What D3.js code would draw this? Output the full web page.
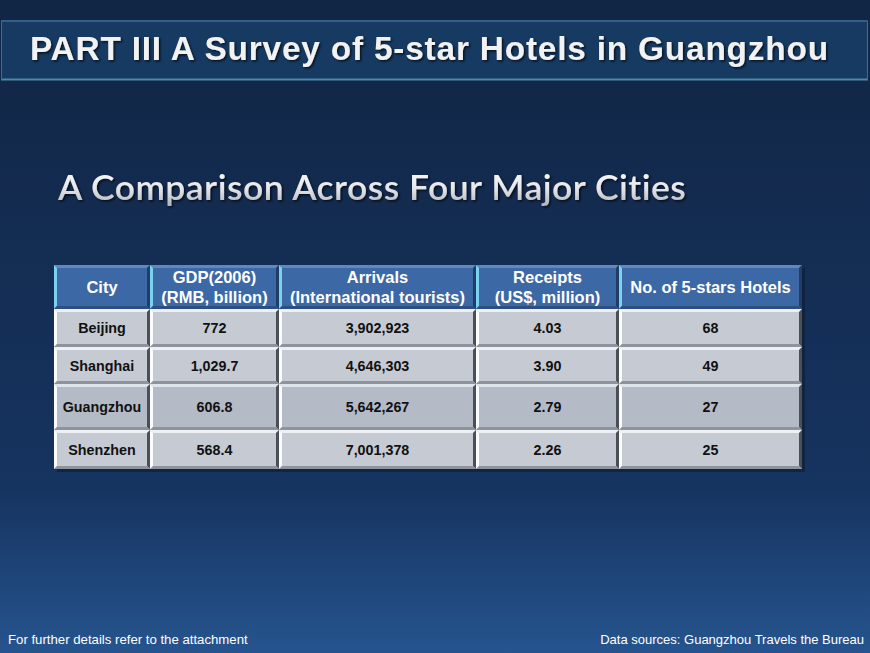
<!DOCTYPE html>
<html>
<head>
<meta charset="utf-8">
<style>
  body { margin: 0; background: #132a4c; }
  svg { display: block; }
  .hdr { font: bold 16.5px "Liberation Sans", Arial, sans-serif; fill: #fff; text-anchor: middle; }
  .cell { font: bold 14.3px "Liberation Sans", Arial, sans-serif; fill: #111; text-anchor: middle; }
  .foot { font-family: "Liberation Sans", Arial, sans-serif; fill: #fff; }
</style>
</head>
<body>
<svg width="870" height="653"></svg>
<script src="https://cdn.jsdelivr.net/npm/d3@7"></script>
<script>
// table data
var headers = [["City"], ["GDP(2006)", "(RMB, billion)"], ["Arrivals", "(International tourists)"],
               ["Receipts", "(US$, million)"], ["No. of 5-stars Hotels"]];
var cities = ["Beijing", "Shanghai", "Guangzhou", "Shenzhen"];
var gdp = [772, 1029.7, 606.8, 568.4];
var arrivals = [3902923, 4646303, 5642267, 7001378];
var receipts = [4.03, 3.90, 2.79, 2.26];
var hotels = [68, 49, 27, 25];

var title = "PART III A Survey of 5-star Hotels in Guangzhou";
var subtitle = "A Comparison Across Four Major Cities";
var footLeft = "For further details refer to the attachment";
var footRight = "Data sources: Guangzhou Travels the Bureau";

// layout
var colEdges = [54, 150, 279, 476, 619, 802];
var rowEdges = [265, 309, 347, 384, 430, 469];
var bev = 3;

var svg = d3.select("svg");
var defs = svg.append("defs");

var bg = defs.append("linearGradient").attr("id", "bg").attr("x1", 0).attr("y1", 0).attr("x2", 0).attr("y2", 1);
bg.append("stop").attr("offset", "0%").attr("stop-color", "#112544");
bg.append("stop").attr("offset", "75%").attr("stop-color", "#163460");
bg.append("stop").attr("offset", "100%").attr("stop-color", "#26548e");

var sg = defs.append("linearGradient").attr("id", "sub").attr("x1", 0).attr("y1", 0).attr("x2", 0).attr("y2", 1);
sg.append("stop").attr("offset", "0%").attr("stop-color", "#ffffff");
sg.append("stop").attr("offset", "55%").attr("stop-color", "#e4e6ea");
sg.append("stop").attr("offset", "100%").attr("stop-color", "#a9adb5");

var sh = defs.append("filter").attr("id", "shadow").attr("x", "-5%").attr("y", "-20%").attr("width", "110%").attr("height", "140%");
sh.append("feDropShadow").attr("dx", 1.5).attr("dy", 1.5).attr("stdDeviation", 0.8)
  .attr("flood-color", "#000").attr("flood-opacity", 0.7);

svg.append("rect").attr("width", 870).attr("height", 653).attr("fill", "url(#bg)");

// title bar
svg.append("rect").attr("x", 1).attr("y", 20).attr("width", 867).attr("height", 60)
  .attr("fill", "#163a62");
svg.append("line").attr("x1", 1).attr("x2", 868).attr("y1", 21).attr("y2", 21)
  .attr("stroke", "#3d6e95").attr("stroke-width", 1.5);
svg.append("line").attr("x1", 1).attr("x2", 868).attr("y1", 79.5).attr("y2", 79.5)
  .attr("stroke", "#4f88ab").attr("stroke-width", 2);
svg.append("line").attr("x1", 1.5).attr("x2", 1.5).attr("y1", 21).attr("y2", 80)
  .attr("stroke", "#3d6e95").attr("stroke-width", 1);
svg.append("line").attr("x1", 867.5).attr("x2", 867.5).attr("y1", 21).attr("y2", 80)
  .attr("stroke", "#3d6e95").attr("stroke-width", 1);

function fit(sel, target) {
  var len = sel.node().getComputedTextLength();
  var fs = parseFloat(sel.attr("font-size"));
  sel.attr("font-size", fs * target / len);
}

var t = svg.append("text").attr("x", 30).attr("y", 60)
  .attr("font-family", "'Liberation Sans', Arial, sans-serif").attr("font-weight", "bold")
  .attr("font-size", 27).attr("letter-spacing", 0.8).attr("fill", "#f2f2f2")
  .attr("filter", "url(#shadow)").text(title);
fit(t, 808);

var s = svg.append("text").attr("x", 58).attr("y", 200)
  .attr("font-family", "Lato, 'Open Sans', sans-serif").attr("font-weight", 600)
  .attr("font-size", 30).attr("letter-spacing", 0.5).attr("fill", "url(#sub)")
  .attr("filter", "url(#shadow)").text(subtitle);
fit(s, 632);

// table
var rows = cities.map(function (c, i) {
  return [c, d3.format(",")(gdp[i]), d3.format(",")(arrivals[i]),
          d3.format(".2f")(receipts[i]), String(hotels[i])];
});

var table = svg.append("g");
// outer shadow
table.append("rect").attr("x", colEdges[0] + 3).attr("y", rowEdges[0] + 3)
  .attr("width", colEdges[5] - colEdges[0]).attr("height", rowEdges[5] - rowEdges[0])
  .attr("fill", "#0c1c33").attr("opacity", 0.6);

function bevelCell(g, x0, y0, x1, y1, c) {
  var b = bev;
  g.append("rect").attr("x", x0).attr("y", y0).attr("width", x1 - x0).attr("height", y1 - y0).attr("fill", c.fill);
  g.append("polygon").attr("points", [[x0, y0], [x1, y0], [x1 - b, y0 + b], [x0 + b, y0 + b]].join(" ")).attr("fill", c.top);
  g.append("polygon").attr("points", [[x0, y0], [x0 + b, y0 + b], [x0 + b, y1 - b], [x0, y1]].join(" ")).attr("fill", c.left);
  g.append("polygon").attr("points", [[x1, y0], [x1, y1], [x1 - b, y1 - b], [x1 - b, y0 + b]].join(" ")).attr("fill", c.right);
  g.append("polygon").attr("points", [[x0, y1], [x1, y1], [x1 - b, y1 - b], [x0 + b, y1 - b]].join(" ")).attr("fill", c.bottom);
}

var hdrStyle = { fill: "#3c68a5", top: "#5d88c2", left: "#79d3f0", right: "#203d66", bottom: "#2b4f80" };
var rowStyle = { fill: "#c6cad3", top: "#eef0f4", left: "#fbfcfd", right: "#4a4f58", bottom: "#8e949e" };
var rowStyleDark = { fill: "#b4bbc7", top: "#dfe3ea", left: "#fbfcfd", right: "#4a4f58", bottom: "#8e949e" };

headers.forEach(function (h, j) {
  var x0 = colEdges[j], x1 = colEdges[j + 1];
  bevelCell(table, x0, rowEdges[0], x1, rowEdges[1], hdrStyle);
  var cx = (x0 + x1) / 2, cy = (rowEdges[0] + rowEdges[1]) / 2;
  var tx = table.append("text").attr("class", "hdr").attr("x", cx);
  if (h.length === 1) {
    tx.attr("y", cy + 6).text(h[0]);
  } else {
    tx.append("tspan").attr("x", cx).attr("y", cy - 4).text(h[0]);
    tx.append("tspan").attr("x", cx).attr("y", cy + 15.5).text(h[1]);
  }
});

rows.forEach(function (r, i) {
  var y0 = rowEdges[i + 1], y1 = rowEdges[i + 2];
  r.forEach(function (v, j) {
    var x0 = colEdges[j], x1 = colEdges[j + 1];
    bevelCell(table, x0, y0, x1, y1, i === 2 ? rowStyleDark : rowStyle);
    table.append("text").attr("class", "cell")
      .attr("x", (x0 + x1) / 2).attr("y", (y0 + y1) / 2 + 5).text(v);
  });
});

// footer
var fl = svg.append("text").attr("class", "foot").attr("x", 8).attr("y", 644)
  .attr("font-size", 13).text(footLeft);
fit(fl, 240);
var fr = svg.append("text").attr("class", "foot").attr("x", 864).attr("y", 644)
  .attr("text-anchor", "end").attr("font-size", 13).text(footRight);
fit(fr, 264);
</script>
</body>
</html>
